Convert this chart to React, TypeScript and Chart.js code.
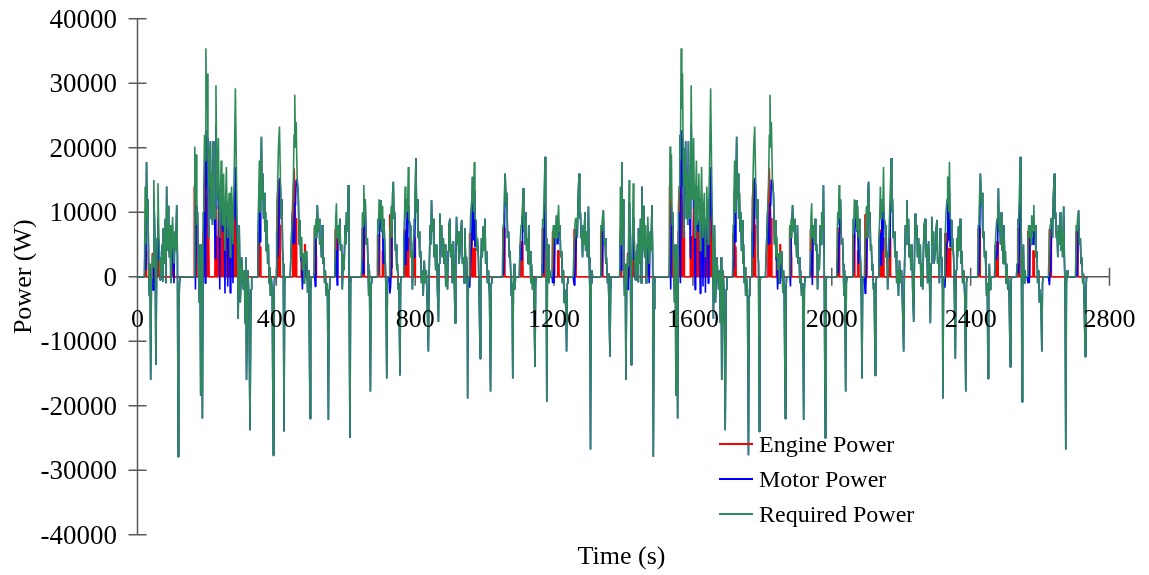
import React, { useEffect, useRef } from 'react';
import { Chart, registerables } from 'chart.js';

Chart.register(...registerables);

// One drive cycle (s); the figure shows the same cycle driven twice.
const CYCLE_LENGTH_S = 1369;

const TIME_S = [
  // first hill
  0, 20, 22, 24, 26, 28, 30, 32, 34, 36,
  38, 40, 43, 45, 47, 49, 51, 53, 55, 57,
  59, 61, 63, 65, 67, 69, 71, 73, 74, 76,
  78, 80, 82, 84, 86, 88, 90, 92, 94, 96,
  98, 101, 103, 105, 108, 110, 113, 115, 117, 119,
  121, 123,
  // big hill
  163, 165, 167, 169, 171, 173, 175, 178, 180, 182,
  184, 187, 189, 191, 193, 195, 197, 199, 201, 203,
  205, 206, 208, 210, 212, 214, 216, 218, 220, 222,
  224, 226, 229, 231, 233, 235, 237, 239, 241, 243,
  244, 246, 248, 250, 252, 254, 256, 258, 260, 262,
  264, 266, 267, 269, 271, 273, 275, 277, 279, 282,
  285, 288, 290, 293, 296, 300, 305, 308, 310, 312,
  314, 318, 321, 324, 327, 329,
  // C
  345, 347, 349, 351, 353, 355, 357, 359, 361, 363,
  365, 367, 369, 371, 373, 375, 377, 379, 381, 383,
  385, 388, 391, 393, 395, 399, 401, 404, 406, 409,
  412, 414, 416, 418, 420, 422, 424, 426,
  // D
  440, 443, 446, 449, 451, 453, 455, 457, 460, 463,
  466, 468, 470, 473, 475, 478, 480, 482, 485, 487,
  490, 492, 494, 497, 499, 501,
  // E
  508, 510, 512, 514, 516, 518, 521, 523, 525, 528,
  530, 532, 534, 537, 539, 541, 544, 547, 550, 552,
  554,
  // F
  568, 571, 573, 575, 577, 580, 583, 585, 588, 590,
  593, 595, 598, 600, 602, 605, 607, 609, 612, 614,
  616,
  // G
  645, 648, 650, 652, 654, 656, 659, 662, 664, 666,
  668, 671, 673, 675,
  // H
  690, 692, 694, 696, 699, 701, 703, 706, 708, 710,
  712, 714, 716, 718, 720, 722,
  // I
  725, 727, 729, 731, 733, 735, 737, 739, 741, 743,
  745, 747, 749, 751, 753, 756, 758, 760,
  // J
  765, 767, 769, 771, 773, 775, 778, 780, 782, 785,
  787, 790, 792, 795, 797, 799, 802, 804, 806, 808,
  811, 813, 816, 818, 821, 823, 826, 829, 832, 835,
  838, 840, 843, 845, 847, 849, 852, 854, 857, 859,
  862, 864, 867, 869, 871, 873, 876, 878, 881, 883,
  886, 888, 891, 893, 895, 897, 900, 902, 905, 907,
  910, 912, 915, 917, 919, 921, 924, 926, 929, 931,
  934, 936, 939, 941, 943, 945, 948, 950, 951, 953,
  955,
  // K
  957, 960, 963, 965, 968, 970, 972, 975, 977, 979,
  982, 984, 987, 989, 991, 993, 996, 998, 1001, 1003,
  1006, 1008, 1011, 1014, 1017, 1019, 1021,
  // L
  1051, 1053, 1055, 1057, 1059, 1062, 1064, 1066, 1069, 1071,
  1073, 1075, 1077, 1079, 1081, 1083, 1085, 1087, 1089,
  // M
  1100, 1102, 1105, 1107, 1109, 1111, 1113, 1115, 1117, 1119,
  1121, 1123, 1125, 1127, 1129, 1131, 1133, 1135, 1138, 1140,
  1142, 1145, 1147, 1149,
  // N
  1163, 1165, 1167, 1169, 1171, 1174, 1176, 1177, 1179, 1181,
  1183, 1185, 1187, 1189,
  // O
  1194, 1196, 1198, 1200, 1203, 1205, 1207, 1209, 1211, 1213,
  1215, 1217, 1219, 1222, 1224, 1227, 1229, 1231, 1234, 1236,
  1238, 1240,
  // P
  1255, 1258, 1260, 1262, 1265, 1267, 1269, 1272, 1274, 1276,
  1278, 1280, 1282, 1284, 1286, 1289, 1291, 1294, 1296, 1299,
  1301, 1303, 1305, 1307, 1309, 1311,
  // Q
  1333, 1335, 1337, 1339, 1342, 1344, 1347, 1349, 1351, 1354,
  1356, 1358, 1361, 1363, 1365, 1369,
];

const REQUIRED_W = [
  // first hill
  0, 0, 14000, 5000, 17800, 8800, 12000, 2000, -3000, 2000,
  -16000, -2000, 3400, 1500, 15000, 9000, 2000, -13700, 0, 6000,
  14500, 8000, 4000, -500, 3000, 800, 5000, -800, 7500, 3500,
  2000, 9000, -1000, 14000, 4000, 11000, 6000, 3000, 8000, -1000,
  3000, 9300, 6000, 2000, 7000, 4000, 11100, 3000, -27900, -5000,
  -1000, 0,
  // big hill
  0, 20200, 12000, 19000, 8000, 10000, 3000, -4000, 5000, -18400,
  5000, -22000, 10000, 14000, 22000, 18000, 35400, 26000, 31500, 18000,
  6000, 20000, 14000, 21000, 9000, 16000, 8000, 21000, 12000, 9000,
  9000, 29700, 12000, 17000, 21500, 12000, 6000, 13000, 18000, 11000,
  8000, 14000, 16000, 9000, 4000, 12000, 17000, 10000, 6000, 11000,
  13000, 7000, 3000, 9000, 14000, 9000, 5000, 12000, 17500, 29200,
  16000, 5000, -6500, 8000, -4000, 3000, -2000, 1000, -7200, 3000,
  -16000, 1000, -3000, -23800, -2000, 0,
  // C
  0, 8000, 12000, 18000, 10000, 15000, 21700, 12000, 16000, 9000,
  13000, 7000, 10000, 4000, 8800, 2000, 5000, -1000, 1500, -3000,
  0, -2000, -27700, -3000, 0, 0, 7000, 15000, 20000, 23300,
  14000, 9000, 12000, 4000, 2000, -24000, -1000, 0,
  // D
  0, 5000, 10000, 15000, 22000, 28200, 20000, 24000, 15000, 12900,
  5000, 8800, 3000, 6200, 1000, 3600, -1000, 4000, 2000, 4000,
  -2500, 1000, -3000, -22000, -2000, 0,
  // E
  0, 8000, 6000, 9000, 6000, 11100, 7000, 9000, 5000, 6000,
  3000, 8000, 2000, 3000, -1000, 1000, -3000, -1000, -22200, -2000,
  0,
  // F
  0, 9000, 11400, 6000, 8000, 5000, 9000, 4000, 5000, -2000,
  3500, 1000, 8000, 5000, 10000, 7000, 14200, 4000, -25000, -1000,
  0,
  // G
  0, 10000, 8000, 14200, 9000, 12000, 5000, 6000, 2000, -3000,
  1000, -17800, -1000, 0,
  // H
  0, 9000, 7000, 12000, 9000, 11900, 7000, 11000, 6000, 9000,
  5000, 2000, -3000, -15800, -1000, 0,
  // I
  0, 7000, 8000, 11000, 6000, 13000, 14700, 9000, 10000, 4000,
  5000, 1000, 2000, -2000, -1000, -15300, -1000, 0,
  // J
  0, 6000, 9000, 14000, 9000, 12000, 10000, 17000, 9000, 8000,
  3000, 4000, -2000, 5500, 9000, 12000, 18400, 10000, 12000, 6000,
  7000, 3000, 4000, -1000, 1000, -3000, 2500, -1000, 1000, -5000,
  -11600, 0, 8000, 5000, 11900, 7000, 9000, 3000, 5000, 1000,
  5000, -2000, -7000, 2000, 9800, 6000, 8000, 3000, 6000, 2000,
  5000, -1500, 2000, -2000, 4000, 8000, 9000, 3000, 5000, -1000,
  5500, 1000, -7200, 2000, 9300, 5000, 7000, 2000, 4000, 7000,
  8800, 2000, 3000, -1000, 7500, 3000, 3000, -2000, -18900, -1000,
  0,
  // K
  5000, 10000, 12000, 15500, 10000, 17800, 9000, 8800, 4000, 6000,
  3000, -2000, -12700, 1000, 6000, 3000, 7800, 4000, 9000, 2000,
  4000, -1000, 1000, -3000, -17800, -1000, 0,
  // L
  0, 8000, 9000, 13000, 16000, 11000, 13000, 6000, 7000, 3000,
  4000, 1000, -3000, -1000, -15800, -1000, 2000, -2000, 0,
  // M
  0, 5000, 8000, 9000, 11000, 13700, 7000, 9000, 5000, 10000,
  4000, 6000, 2000, 8000, 3000, 4000, -1000, 2000, -2000, 0,
  -3000, -14000, -1000, 0,
  // N
  0, 2000, 9000, 8000, 12000, 18600, 10000, 6000, -19400, 2000,
  5000, -1000, 1000, 0,
  // O
  0, 6000, 8000, 6000, 8000, 5000, 9500, 6000, 9000, 11100,
  7000, 8000, 3000, 4000, -1000, 1000, -4000, -2000, -5000, -11600,
  -1000, 0,
  // P
  0, 6000, 8000, 9000, 9000, 6000, 12000, 16000, 9000, 10000,
  6000, 7000, 3000, 8000, 5000, 10000, 4000, 7000, 3000, 10900,
  3000, -2000, -26800, -1000, 1000, 0,
  // Q
  0, 8000, 7000, 9000, 10300, 5000, 6000, 2000, 3000, -1000,
  500, -4000, -12400, -2000, 0, 0,
];

const MOTOR_W = [
  // first hill
  0, 0, 6500, 1000, 17800, 8800, 12000, 2000, -3000, 2000,
  -16000, -2000, -200, -2100, 11400, 9000, 2000, -13700, 0, 6000,
  9100, 2600, 4000, -500, 3000, 800, 5000, -800, 7500, 3500,
  2000, 9000, -1000, 14000, 4000, 11000, 6000, 3000, 8000, -1000,
  1500, 6300, 3000, -1000, 7000, 4000, 11100, 3000, -27900, -5000,
  -1000, 0,
  // big hill
  0, 6200, -2000, 11000, 8000, 10000, 3000, -4000, 5000, -18400,
  5000, -22000, 3000, 7000, 10000, -1000, 22700, 14000, 21500, 10000,
  6000, 13000, 14000, 21000, 9000, 16000, 8000, 21000, 12000, 9000,
  2800, 23500, 12000, 17000, 10500, 12000, -2000, 13000, 9000, 11000,
  8000, 7000, 8000, 9000, -2600, 12000, 9500, 10000, -1500, 11000,
  6000, 7000, -2500, 9000, 7000, 9000, -1000, 12000, 9000, 17000,
  8000, 5000, -6500, 8000, -4000, 3000, -2000, 1000, -7200, 3000,
  -16000, 1000, -3000, -23800, -2000, 0,
  // C
  0, 1300, 5300, 13400, 5400, 15000, 21700, 12000, 16000, 9000,
  13000, 7000, 10000, 4000, 8800, 2000, 5000, -1000, 1500, -3000,
  0, -2000, -27700, -3000, 0, 0, 7000, 3000, 5000, 15300,
  14000, 9000, 12000, 4000, 2000, -24000, -1000, 0,
  // D
  0, 5000, 10000, 5000, 5200, 11400, 11000, 15000, 15000, 12900,
  5000, 8800, 3000, 2200, -2000, 3600, -1000, -1000, 2000, 4000,
  -2500, 1000, -3000, -22000, -2000, 0,
  // E
  0, 500, -1500, 6000, 6000, 11100, 7000, 9000, 5000, 6000,
  3000, 8000, 2000, 3000, -1000, 1000, -3000, -1000, -22200, -2000,
  0,
  // F
  0, 1700, 4100, -1300, 8000, 5000, 9000, 4000, 5000, -2000,
  3500, 1000, 8000, 5000, 10000, 7000, 14200, 4000, -25000, -1000,
  0,
  // G
  0, 2500, 500, 6700, 9000, 12000, 5000, 6000, 2000, -3000,
  1000, -17800, -1000, 0,
  // H
  0, 2500, 500, 5500, 9000, 11900, 7000, 7000, 2000, 9000,
  5000, 2000, -3000, -15800, -1000, 0,
  // I
  0, -2600, -1600, 1400, 6000, 13000, 14700, 9000, 10000, 4000,
  5000, 1000, 2000, -2000, -1000, -15300, -1000, 0,
  // J
  0, 6000, 1800, 6800, 1800, 12000, 4000, 11000, 9000, 8000,
  3000, 4000, -2000, 5500, 3000, 6000, 18400, 10000, 12000, 6000,
  7000, 3000, 4000, -1000, 1000, -3000, 2500, -1000, 1000, -5000,
  -11600, 0, 8000, 5000, 11900, 7000, 9000, 3000, 5000, 1000,
  5000, -2000, -7000, 2000, 9800, 6000, 8000, 3000, 6000, 2000,
  5000, -1500, 2000, -2000, 4000, 8000, 9000, 3000, 5000, -1000,
  5500, 1000, -7200, 2000, 9300, 5000, 7000, 2000, 4000, 7000,
  8800, 2000, 3000, -1000, 7500, 3000, 3000, -2000, -18900, -1000,
  0,
  // K
  -1700, 3300, 5300, 15500, 5600, 13400, 4600, 8800, 4000, 6000,
  3000, -2000, -12700, 1000, 6000, 3000, 7800, 4000, 9000, 2000,
  4000, -1000, 1000, -3000, -17800, -1000, 0,
  // L
  0, 500, 1500, 5500, 16000, 11000, 13000, 6000, 7000, 3000,
  4000, 1000, -3000, -1000, -15800, -1000, 2000, -2000, 0,
  // M
  0, 5000, 2600, 3600, 5600, 13700, 7000, 9000, 5000, 10000,
  4000, 6000, 2000, 8000, 3000, 4000, -1000, 2000, -2000, 0,
  -3000, -14000, -1000, 0,
  // N
  0, 2000, 1500, 500, 4500, 18600, 10000, 6000, -19400, 2000,
  5000, -1000, 1000, 0,
  // O
  0, -1000, 1000, -1000, 8000, 5000, 9500, 6000, 5000, 7100,
  7000, 8000, 3000, 4000, -1000, 1000, -4000, -2000, -5000, -11600,
  -1000, 0,
  // P
  0, -1300, 700, 1700, 9000, 6000, 12000, 16000, 9000, 10000,
  6000, 7000, 3000, 8000, 5000, 10000, 4000, 7000, 3000, 10900,
  3000, -2000, -26800, -1000, 1000, 0,
  // Q
  0, 1000, 0, 2000, 10300, 5000, 6000, 2000, 3000, -1000,
  500, -4000, -12400, -2000, 0, 0,
];

// Engine power: on/off blocks (own time base)
const ENGINE_TIME_S = [
  0, 21, 21.5, 23, 24, 25.5, 26, 42, 42.5, 48, 48.5, 58, 58.5, 62, 62.5,
  97, 97.5, 100, 105, 105.5,
  163, 163.5, 167, 169, 171, 171.5,
  188, 188.5, 191, 193, 195, 197, 199, 201, 203, 204, 204.5, 205.5, 206.5,
  223, 223.5, 228, 228.5,
  231, 233, 235, 237, 239, 241, 243, 246, 248, 250, 252, 254, 256, 258, 260,
  262, 264, 266, 267, 269, 271, 273, 275, 277, 279, 282, 285, 288,
  346, 346.5, 350, 352, 355, 355.5,
  402, 402.5, 406, 409, 411, 411.5,
  447, 447.5, 451, 453, 455, 458, 458.5,
  471, 471.5, 475, 475.5, 481, 481.5, 483, 483.5,
  509, 509.5, 513, 515, 515.5,
  569, 569.5, 576, 576.5,
  647, 647.5, 653, 653.5,
  691, 691.5, 697, 697.5, 705, 705.5, 709, 709.5,
  726, 726.5, 732, 732.5,
  768, 768.5, 774, 774.5, 777, 777.5, 781, 781.5, 796, 796.5, 800, 800.5,
  956, 956.5, 963, 963.5, 967, 967.5, 973, 973.5,
  1052, 1052.5, 1058, 1058.5,
  1104, 1104.5, 1110, 1110.5,
  1166, 1166.5, 1172, 1172.5,
  1195, 1195.5, 1201, 1201.5, 1210, 1210.5, 1214, 1214.5,
  1257, 1257.5, 1263, 1263.5,
  1334, 1334.5, 1340, 1340.5,
  1369,
];

const ENGINE_W = [
  0, 0, 7500, 7500, 4000, 4000, 0, 0, 3600, 3600, 0, 0, 5400, 5400, 0,
  0, 1500, 3000, 3000, 0,
  0, 14000, 14000, 8000, 8000, 0,
  0, 7000, 7000, 12000, 19000, 12700, 12000, 10000, 8000, 8000, 0, 7000, 0,
  0, 6200, 6200, 0,
  0, 11000, 0, 8000, 0, 9000, 0, 7000, 8000, 0, 6600, 0, 7500, 0, 7500,
  0, 7000, 0, 5500, 0, 7000, 0, 6000, 0, 8500, 12200, 8000, 0,
  0, 6700, 6700, 4600, 4600, 0,
  0, 12000, 15000, 8000, 8000, 0,
  0, 10000, 16800, 16800, 9000, 9000, 0,
  0, 4000, 3000, 0, 0, 5000, 5000, 0,
  0, 7500, 7500, 3000, 0,
  0, 7300, 7300, 0,
  0, 7500, 7500, 0,
  0, 6500, 6500, 0, 0, 4000, 4000, 0,
  0, 9600, 9600, 0,
  0, 7200, 7200, 0, 0, 6000, 6000, 0, 0, 6000, 6000, 0,
  0, 6700, 6700, 0, 0, 4400, 4400, 0,
  0, 7500, 7500, 0,
  0, 5400, 5400, 0,
  0, 7500, 7500, 0,
  0, 7000, 7000, 0, 0, 4000, 4000, 0,
  0, 7300, 7300, 0,
  0, 7000, 7000, 0,
  0,
];

const CYCLE_COUNT = 2;
const X_TICKS = [0, 400, 800, 1200, 1600, 2000, 2400, 2800];
const Y_TICKS = [40000, 30000, 20000, 10000, 0, -10000, -20000, -30000, -40000];
const SERIES_LABELS = ['Engine Power', 'Motor Power', 'Required Power'];
const SERIES_COLORS = ['#FF0000', '#0000FF', '#2E8B57'];
const X_TITLE = 'Time (s)';
const Y_TITLE = 'Power (W)';

const FONT_FAMILY = '"Liberation Serif", "Times New Roman", serif';
const AXIS_COLOR = '#595959';

function repeatCycles(times: number[], values: number[]) {
  const pts: { x: number; y: number }[] = [];
  const n = Math.min(times.length, values.length);
  for (let c = 0; c < CYCLE_COUNT; c++) {
    for (let i = 0; i < n; i++) {
      pts.push({ x: times[i] + c * CYCLE_LENGTH_S, y: values[i] });
    }
  }
  return pts;
}

const decorPlugin = {
  id: 'decor',
  beforeDatasetsDraw(chart: any) {
    const { ctx, scales } = chart;
    const xs = scales.x;
    const ys = scales.y;
    const x0 = xs.getPixelForValue(0);
    const y0 = ys.getPixelForValue(0);
    ctx.save();
    ctx.strokeStyle = AXIS_COLOR;
    ctx.lineWidth = 1.5;
    ctx.beginPath();
    ctx.moveTo(x0, ys.getPixelForValue(Y_TICKS[0]));
    ctx.lineTo(x0, ys.getPixelForValue(Y_TICKS[Y_TICKS.length - 1]));
    ctx.moveTo(x0, y0);
    ctx.lineTo(xs.getPixelForValue(X_TICKS[X_TICKS.length - 1]), y0);
    for (const v of Y_TICKS) {
      const py = ys.getPixelForValue(v);
      ctx.moveTo(x0 - 9, py);
      ctx.lineTo(x0 + 9, py);
    }
    for (const v of X_TICKS) {
      const px = xs.getPixelForValue(v);
      ctx.moveTo(px, y0 - 9);
      ctx.lineTo(px, y0 + 9);
    }
    ctx.stroke();
    ctx.restore();
  },
  afterDraw(chart: any) {
    const { ctx, scales } = chart;
    const xs = scales.x;
    const ys = scales.y;
    const x0 = xs.getPixelForValue(0);
    const y0 = ys.getPixelForValue(0);
    ctx.save();
    ctx.fillStyle = '#000';
    ctx.font = `27px ${FONT_FAMILY}`;
    ctx.textAlign = 'right';
    ctx.textBaseline = 'alphabetic';
    for (const v of Y_TICKS) {
      const py = ys.getPixelForValue(v);
      ctx.fillText(String(v), x0 - 20.5, py + 9);
    }
    ctx.font = `26px ${FONT_FAMILY}`;
    ctx.textAlign = 'center';
    for (const v of X_TICKS) {
      const px = xs.getPixelForValue(v);
      ctx.fillText(String(v), px, y0 + 50);
    }
    const area = chart.chartArea;
    ctx.fillText(X_TITLE, (area.left + area.right) / 2 - 2, 563.5);
    ctx.save();
    ctx.translate(31, (area.top + area.bottom) / 2);
    ctx.rotate(-Math.PI / 2);
    ctx.fillText(Y_TITLE, 0, 0);
    ctx.restore();
    ctx.font = `24px ${FONT_FAMILY}`;
    ctx.textAlign = 'left';
    const legendX = 719;
    const legendY = [444, 479, 514];
    for (let i = 0; i < SERIES_LABELS.length; i++) {
      ctx.strokeStyle = SERIES_COLORS[i];
      ctx.lineWidth = 2;
      ctx.beginPath();
      ctx.moveTo(legendX, legendY[i]);
      ctx.lineTo(legendX + 34, legendY[i]);
      ctx.stroke();
      ctx.fillStyle = '#000';
      ctx.fillText(SERIES_LABELS[i], legendX + 40, legendY[i] + 8.2);
    }
    ctx.restore();
  },
};

export default function App() {
  const canvasRef = useRef<HTMLCanvasElement | null>(null);

  useEffect(() => {
    document.body.style.margin = '0';
    const canvas = canvasRef.current;
    if (!canvas) return;
    const common = {
      pointRadius: 0,
      borderWidth: 1.6,
      tension: 0,
      borderJoinStyle: 'bevel' as const,
    };
    const chart = new Chart(canvas, {
      type: 'line',
      data: {
        datasets: [
          {
            ...common,
            label: SERIES_LABELS[0],
            data: repeatCycles(ENGINE_TIME_S, ENGINE_W),
            borderColor: SERIES_COLORS[0],
            backgroundColor: SERIES_COLORS[0],
            fill: 'origin',
            order: 3,
          },
          {
            ...common,
            label: SERIES_LABELS[1],
            data: repeatCycles(TIME_S, MOTOR_W),
            borderColor: SERIES_COLORS[1],
            fill: false,
            order: 2,
          },
          {
            ...common,
            label: SERIES_LABELS[2],
            data: repeatCycles(TIME_S, REQUIRED_W),
            borderColor: SERIES_COLORS[2],
            fill: false,
            order: 1,
          },
        ],
      },
      options: {
        animation: false,
        responsive: false,
        maintainAspectRatio: false,
        devicePixelRatio: 1,
        layout: { padding: { left: 137.5, right: 39.5, top: 18.7, bottom: 40.3 } },
        scales: {
          x: { type: 'linear', min: 0, max: 2800, display: false },
          y: { type: 'linear', min: -40000, max: 40000, display: false },
        },
        plugins: {
          legend: { display: false },
          tooltip: { enabled: false },
        },
        events: [],
      },
      plugins: [decorPlugin],
    });
    return () => chart.destroy();
  }, []);

  return (
    <div style={{ width: 1149, height: 575, overflow: 'hidden', background: '#fff' }}>
      <canvas ref={canvasRef} width={1149} height={575} style={{ display: 'block', width: 1149, height: 575 }} />
    </div>
  );
}
